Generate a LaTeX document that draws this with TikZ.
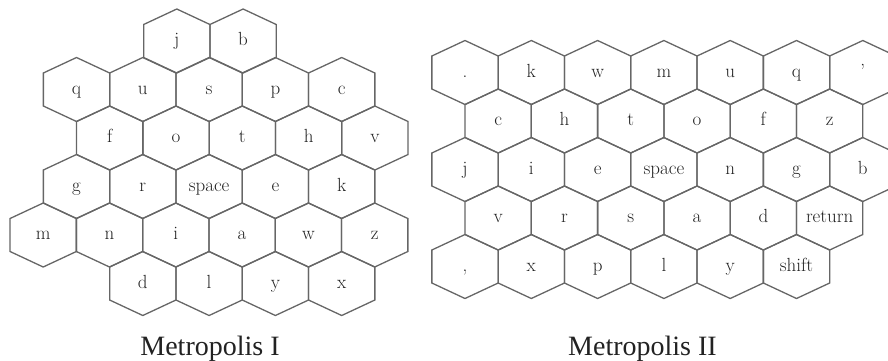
\documentclass[tikz,border=0pt]{standalone}
\usepackage{fontspec}
\newfontfamily\titlefont{Liberation Serif}
\definecolor{hexgray}{HTML}{666666}
\definecolor{inkgray}{HTML}{222222}
\tikzset{
  hexline/.style={draw=hexgray, line width=1.3pt, line join=miter},
  keylab/.style={anchor=base, inner sep=0pt, text=inkgray, font=\fontsize{19}{20}\selectfont},
  titlelab/.style={anchor=base, inner sep=0pt, text=inkgray, font=\titlefont\fontsize{28}{30}\selectfont},
}
\newcommand{\hexcell}[4]{%
  \draw[hexline] (#2,#3) ++(0,-32) -- ++(33.15,15.5) -- ++(0,33) -- ++(-33.15,15.5)
      -- ++(-33.15,-15.5) -- ++(0,-33) -- cycle;
  \node[keylab] (#1) at (#2,#3+4.5) {#4};%
}
\begin{document}
\begin{tikzpicture}[x=1pt,y=-1pt]
\useasboundingbox (0,0) rectangle (888,360);
\clip (0,0) rectangle (888,360);
% ---------------- Metropolis I ----------------
% row 0
\hexcell{Lj}{176.8}{41}{j}
\hexcell{Lb}{243.1}{41}{b}
% row 1
\hexcell{Lq}{76.5}{89.5}{q}
\hexcell{Lu}{142.8}{89.5}{u}
\hexcell{Ls}{209.1}{89.5}{s}
\hexcell{Lp}{275.4}{89.5}{p}
\hexcell{Lc}{341.7}{89.5}{c}
% row 2
\hexcell{Lf}{109.7}{138}{f}
\hexcell{Lo}{176.0}{138}{o}
\hexcell{Lt}{242.3}{138}{t}
\hexcell{Lh}{308.6}{138}{h}
\hexcell{Lv}{374.9}{138}{v}
% row 3
\hexcell{Lg}{76.5}{186.5}{g}
\hexcell{Lr}{142.8}{186.5}{r}
\hexcell{Lspace}{209.1}{186.5}{space}
\hexcell{Le}{275.4}{186.5}{e}
\hexcell{Lk}{341.7}{186.5}{k}
% row 4
\hexcell{Lm}{43.2}{235}{m}
\hexcell{Ln}{109.5}{235}{n}
\hexcell{Li}{175.8}{235}{i}
\hexcell{La}{242.1}{235}{a}
\hexcell{Lw}{308.4}{235}{w}
\hexcell{Lz}{374.7}{235}{z}
% row 5
\hexcell{Ld}{142.8}{283.5}{d}
\hexcell{Ll}{209.1}{283.5}{l}
\hexcell{Ly}{275.4}{283.5}{y}
\hexcell{Lx}{341.7}{283.5}{x}
\node[titlelab] (title1) at (210,355) {Metropolis I};
% ---------------- Metropolis II ----------------
% row 0
\hexcell{Rdot}{465.0}{72.5}{.}
\hexcell{Rk}{531.3}{72.5}{k}
\hexcell{Rw}{597.6}{72.5}{w}
\hexcell{Rm}{663.9}{72.5}{m}
\hexcell{Ru}{730.2}{72.5}{u}
\hexcell{Rq}{796.5}{72.5}{q}
\hexcell{Rapos}{862.8}{72.5}{'}
% row 1
\hexcell{Rc}{498.15}{121}{c}
\hexcell{Rh}{564.45}{121}{h}
\hexcell{Rt}{630.75}{121}{t}
\hexcell{Ro}{697.05}{121}{o}
\hexcell{Rf}{763.35}{121}{f}
\hexcell{Rz}{829.65}{121}{z}
% row 2
\hexcell{Rj}{465.0}{169.5}{j}
\hexcell{Ri}{531.3}{169.5}{i}
\hexcell{Re}{597.6}{169.5}{e}
\hexcell{Rspace}{663.9}{169.5}{space}
\hexcell{Rn}{730.2}{169.5}{n}
\hexcell{Rg}{796.5}{169.5}{g}
\hexcell{Rb}{862.8}{169.5}{b}
% row 3
\hexcell{Rv}{498.15}{218}{v}
\hexcell{Rr}{564.45}{218}{r}
\hexcell{Rs}{630.75}{218}{s}
\hexcell{Ra}{697.05}{218}{a}
\hexcell{Rd}{763.35}{218}{d}
\hexcell{Rreturn}{829.65}{218}{return}
% row 4
\hexcell{Rcomma}{465.0}{266.5}{,}
\hexcell{Rx}{531.3}{266.5}{x}
\hexcell{Rp}{597.6}{266.5}{p}
\hexcell{Rl}{663.9}{266.5}{l}
\hexcell{Ry}{730.2}{266.5}{y}
\hexcell{Rshift}{796.5}{266.5}{shift}
\node[titlelab] (title2) at (642.5,355) {Metropolis II};
\end{tikzpicture}
\end{document}
